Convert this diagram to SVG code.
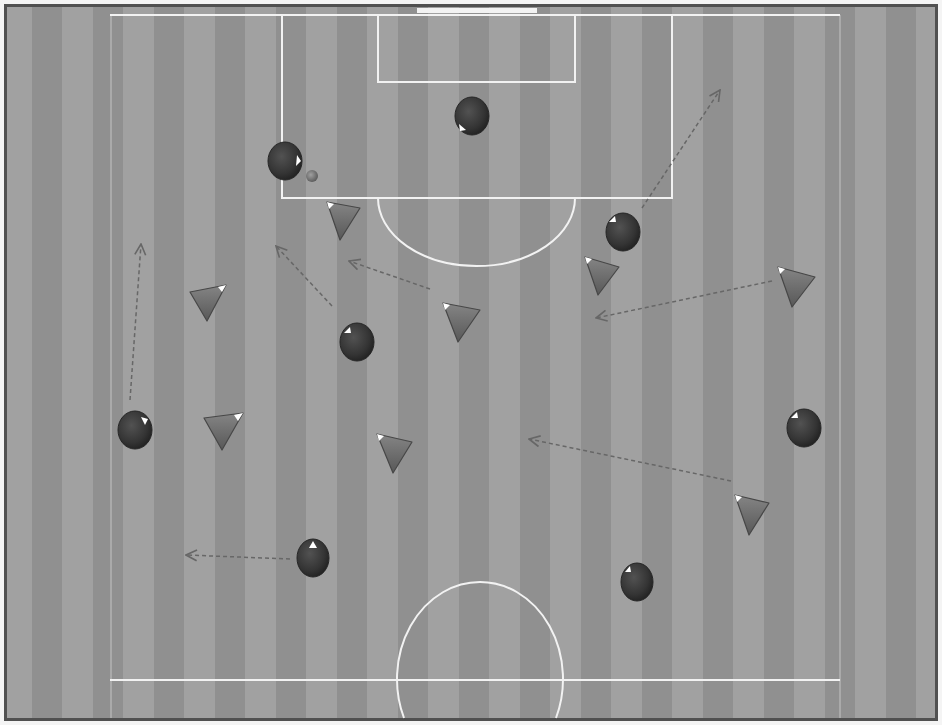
<svg xmlns="http://www.w3.org/2000/svg" width="942" height="725" viewBox="0 0 942 725">
<defs>
<style>
.dk{fill:#909090}
.ln{stroke:#f2f2f2;stroke-width:2;fill:none}
.side{stroke:#c4c4c4;stroke-width:1;fill:none}
.pl{fill:url(#gc);stroke:#262626;stroke-width:1}
.tr{fill:url(#gt);stroke:#474747;stroke-width:1.2;stroke-linejoin:round}
.hl{fill:#ffffff}
.mv{stroke:#676767;stroke-width:1.5;stroke-dasharray:4 3;fill:none;marker-end:url(#ah)}
</style>
<radialGradient id="gc" cx="0.4" cy="0.38" r="0.65">
<stop offset="0" stop-color="#525252"/>
<stop offset="0.7" stop-color="#343434"/>
<stop offset="1" stop-color="#222222"/>
</radialGradient>
<linearGradient id="gt" x1="0" y1="0" x2="0" y2="1">
<stop offset="0" stop-color="#858585"/>
<stop offset="1" stop-color="#585858"/>
</linearGradient>
<radialGradient id="gb" cx="0.4" cy="0.4" r="0.6">
<stop offset="0" stop-color="#a0a0a0"/>
<stop offset="1" stop-color="#5e5e5e"/>
</radialGradient>
<marker id="ah" viewBox="0 0 12 12" refX="11" refY="6" markerWidth="13" markerHeight="13" markerUnits="userSpaceOnUse" orient="auto">
<path d="M1,1 L11,6 L1,11" fill="none" stroke="#676767" stroke-width="1.5"/>
</marker>
</defs>
<rect x="0" y="0" width="942" height="725" fill="#f4f4f4"/>
<g id="pitch">
<rect x="6" y="6" width="930" height="713" fill="#a1a1a1"/>
<rect class="dk" x="32" y="7" width="30" height="712"/>
<rect class="dk" x="93" y="7" width="30" height="712"/>
<rect class="dk" x="154" y="7" width="30" height="712"/>
<rect class="dk" x="215" y="7" width="30" height="712"/>
<rect class="dk" x="276" y="7" width="30" height="712"/>
<rect class="dk" x="337" y="7" width="30" height="712"/>
<rect class="dk" x="398" y="7" width="30" height="712"/>
<rect class="dk" x="459" y="7" width="30" height="712"/>
<rect class="dk" x="520" y="7" width="30" height="712"/>
<rect class="dk" x="581" y="7" width="30" height="712"/>
<rect class="dk" x="642" y="7" width="30" height="712"/>
<rect class="dk" x="703" y="7" width="30" height="712"/>
<rect class="dk" x="764" y="7" width="30" height="712"/>
<rect class="dk" x="825" y="7" width="30" height="712"/>
<rect class="dk" x="886" y="7" width="30" height="712"/>
<rect x="5.5" y="5.5" width="931" height="714" fill="none" stroke="#505050" stroke-width="3"/>
<rect x="417" y="8" width="120" height="5" fill="#f2f2f2"/>
<line class="side" x1="111" y1="15" x2="111" y2="718"/>
<line class="side" x1="840" y1="15" x2="840" y2="718"/>
<line class="ln" x1="110" y1="15" x2="840" y2="15"/>
<line class="ln" x1="110" y1="680" x2="840" y2="680"/>
<polyline class="ln" points="282,15 282,198 672,198 672,15"/>
<polyline class="ln" points="378,15 378,82 575,82 575,15"/>
<path class="ln" d="M378,198 A98.5,68 0 0 0 575,198"/>
<path class="ln" d="M404,718 A83,97 0 1 1 556,718"/>
</g>
<g id="connectors">
<line class="mv" x1="130" y1="400" x2="141" y2="244"/>
<line class="mv" x1="332" y1="306" x2="276" y2="246"/>
<line class="mv" x1="430" y1="289" x2="349" y2="261"/>
<line class="mv" x1="642" y1="208" x2="720" y2="90"/>
<line class="mv" x1="772" y1="281" x2="596" y2="318"/>
<line class="mv" x1="731" y1="481" x2="529" y2="439"/>
<line class="mv" x1="290" y1="559" x2="186" y2="555"/>
</g>
<g id="ball"><circle cx="312" cy="176" r="6" fill="url(#gb)"/></g>
<g id="c1"><ellipse class="pl" cx="472" cy="116" rx="17" ry="19"/><path class="hl" d="M459,124 L466,130 L460,131 Z"/></g>
<g id="c2"><ellipse class="pl" cx="285" cy="161" rx="17" ry="19"/><path class="hl" d="M297,155 L301,161 L296,166 Z"/></g>
<g id="c3"><ellipse class="pl" cx="623" cy="232" rx="17" ry="19"/><path class="hl" d="M609,222 L615,216 L616,222 Z"/></g>
<g id="c4"><ellipse class="pl" cx="357" cy="342" rx="17" ry="19"/><path class="hl" d="M344,333 L350,327 L351,333 Z"/></g>
<g id="c5"><ellipse class="pl" cx="135" cy="430" rx="17" ry="19"/><path class="hl" d="M141,417 L148,419 L145,425 Z"/></g>
<g id="c6"><ellipse class="pl" cx="804" cy="428" rx="17" ry="19"/><path class="hl" d="M791,418 L797,412 L798,418 Z"/></g>
<g id="c7"><ellipse class="pl" cx="313" cy="558" rx="16" ry="19"/><path class="hl" d="M309,548 L313,541 L317,548 Z"/></g>
<g id="c8"><ellipse class="pl" cx="637" cy="582" rx="16" ry="19"/><path class="hl" d="M625,572 L630,566 L631,572 Z"/></g>
<g id="t1"><path class="tr" d="M327,202 L360,208 L340,240 Z"/><path class="hl" d="M327,202 L334,204 L329,209 Z"/></g>
<g id="t2"><path class="tr" d="M190,292 L226,285 L207,321 Z"/><path class="hl" d="M226,285 L222,292 L218,287 Z"/></g>
<g id="t3"><path class="tr" d="M443,303 L480,310 L458,342 Z"/><path class="hl" d="M443,303 L450,305 L445,310 Z"/></g>
<g id="t4"><path class="tr" d="M585,257 L619,267 L598,295 Z"/><path class="hl" d="M585,257 L592,259 L587,264 Z"/></g>
<g id="t5"><path class="tr" d="M778,267 L815,277 L792,307 Z"/><path class="hl" d="M778,267 L785,269 L780,274 Z"/></g>
<g id="t6"><path class="tr" d="M204,418 L243,413 L222,450 Z"/><path class="hl" d="M243,413 L238,421 L234,415 Z"/></g>
<g id="t7"><path class="tr" d="M377,434 L412,442 L393,473 Z"/><path class="hl" d="M377,434 L384,436 L379,441 Z"/></g>
<g id="t8"><path class="tr" d="M735,495 L769,503 L749,535 Z"/><path class="hl" d="M735,495 L742,497 L737,502 Z"/></g>
</svg>
